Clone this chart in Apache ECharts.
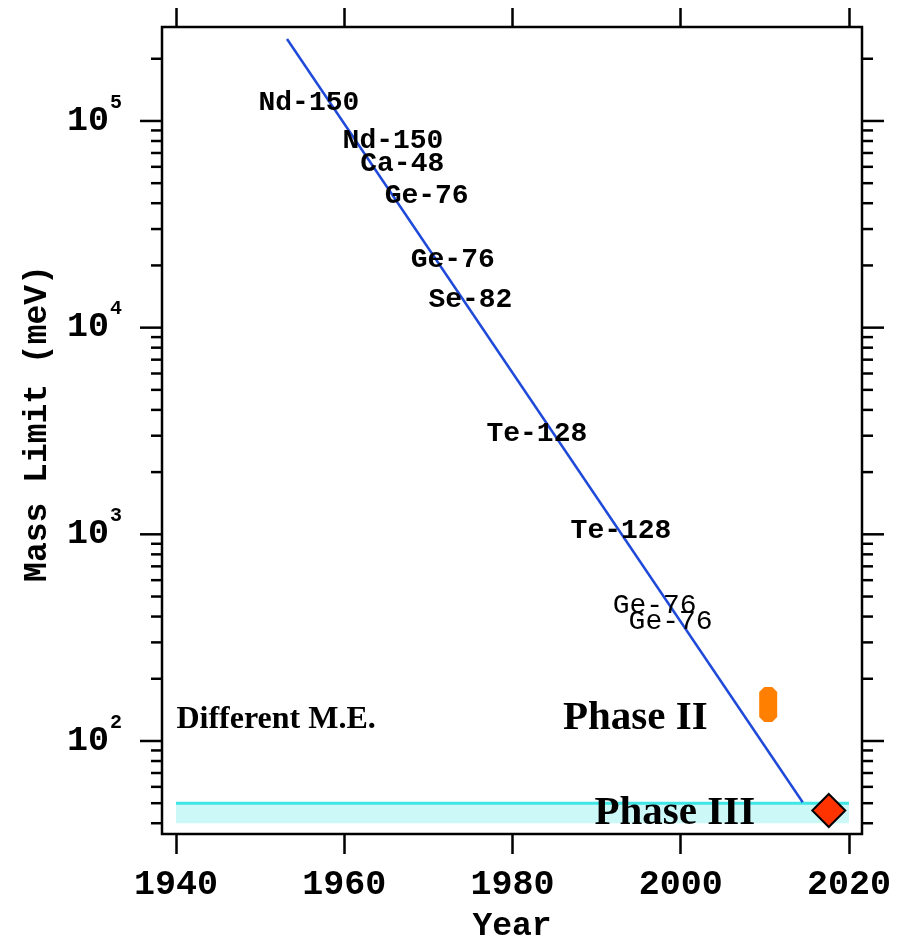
<!DOCTYPE html>
<html>
<head>
<meta charset="utf-8">
<title>Neutrino mass limit vs year</title>
<script src="https://cdn.jsdelivr.net/npm/echarts@6/dist/echarts.min.js"></script>
<style>
  html, body { margin: 0; padding: 0; background: #fff; }
  #chart { width: 897px; height: 942px; }
</style>
</head>
<body>
<div id="chart"></div>
<script>
// Experiment labels (isotope), placed at year / mass limit
const isotopeNames  = ['Nd-150', 'Nd-150', 'Ca-48', 'Ge-76', 'Ge-76', 'Se-82', 'Te-128', 'Te-128', 'Ge-76', 'Ge-76'];
const isotopeYears  = [1955.8, 1965.8, 1966.9, 1969.8, 1972.9, 1975.0, 1982.9, 1992.9, 1996.9, 1998.8];
const isotopeLimits = [122200, 80000, 61900, 43400, 21300, 13600, 3060, 1040, 450, 377];
const isotopeBold   = [true, true, true, true, true, true, true, true, false, false];

// Trend line through the historical limits
const trendYears  = [1953.2, 2014.5];
const trendLimits = [249400, 50.5];

// Phase III target band (year range, mass range)
const bandYears  = [1940, 2020];
const bandLimits = [40, 50];

// Phase II range and Phase III point
const phaseIIYear   = 2010.4;
const phaseIIRange  = [123.6, 182.5];
const phaseIIIYear  = 2017.6;
const phaseIIILimit = 46.1;

// Text annotations
const noteTexts  = ['Different M.E.', 'Phase II', 'Phase III'];
const noteYears  = [1951.9, 1994.6, 1999.3];
const noteLimits = [126.3, 129.2, 44.8];

// Axes
const yearMin = 1938.34, yearMax = 2021.55;
const yearTicks = [1940, 1960, 1980, 2000, 2020];
const massMin = 35.48, massMax = 284900;
const massMajorTicks = [100, 1000, 10000, 100000];
const massMinorTicks = [40, 50, 60, 70, 80, 90,
  200, 300, 400, 500, 600, 700, 800, 900,
  2000, 3000, 4000, 5000, 6000, 7000, 8000, 9000,
  20000, 30000, 40000, 50000, 60000, 70000, 80000, 90000,
  200000];

const MONO = 'Liberation Mono';
const SERIF = 'Liberation Serif';

const chart = echarts.init(document.getElementById('chart'), null, { renderer: 'canvas' });

const tickData = massMajorTicks.map(v => [v, 1]).concat(massMinorTicks.map(v => [v, 0]));

const option = {
  backgroundColor: '#fff',
  animation: false,
  textStyle: { color: '#000' },
  grid: {
    left: 162, right: 35, top: 27, bottom: 108,
    outerBoundsMode: 'none',
    containLabel: false,
    show: true, borderColor: '#000', borderWidth: 2.5, backgroundColor: 'transparent'
  },
  xAxis: [{
    type: 'value', min: yearMin, max: yearMax, position: 'bottom',
    name: 'Year', nameLocation: 'middle', nameGap: 76,
    nameTextStyle: { fontFamily: MONO, fontWeight: 'bold', fontSize: 33, color: '#000' },
    axisLine: { show: false },
    splitLine: { show: false },
    axisTick: { show: true, inside: false, length: 20, customValues: yearTicks,
      lineStyle: { color: '#000', width: 2.5 } },
    axisLabel: { customValues: yearTicks, margin: 34, fontFamily: MONO, fontWeight: 'bold',
      fontSize: 35, color: '#000', formatter: v => String(Math.round(v)) }
  }, {
    type: 'value', min: yearMin, max: yearMax, position: 'top',
    axisLine: { show: false },
    splitLine: { show: false },
    axisTick: { show: true, inside: false, length: 19, customValues: yearTicks,
      lineStyle: { color: '#000', width: 2.5 } },
    axisLabel: { show: false }
  }],
  yAxis: [{
    type: 'log', logBase: 10, min: massMin, max: massMax, position: 'left',
    name: 'Mass Limit (meV)', nameLocation: 'middle', nameGap: 108, nameRotate: 90,
    nameTextStyle: { fontFamily: MONO, fontWeight: 'bold', fontSize: 33, color: '#000',
      padding: [0, 0, 0, 14] },
    axisLine: { show: false },
    splitLine: { show: false },
    axisTick: { show: false },
    axisLabel: {
      margin: 40,
      formatter: v => {
        const e = Math.log10(v);
        const r = Math.round(e);
        if (Math.abs(e - r) > 1e-6) return '';
        return '{b|10}{s|' + r + '}';
      },
      rich: {
        b: { fontFamily: MONO, fontWeight: 'bold', fontSize: 35, lineHeight: 35,
             color: '#000', verticalAlign: 'bottom' },
        s: { fontFamily: MONO, fontWeight: 'bold', fontSize: 20, lineHeight: 20,
             color: '#000', verticalAlign: 'bottom', padding: [0, 0, 26, 1] }
      }
    }
  }],
  series: [
    {
      // Phase III band: light fill with a brighter upper edge
      type: 'custom',
      name: 'Phase III band',
      data: [[bandYears[0], bandYears[1], bandLimits[0], bandLimits[1]]],
      encode: { x: [0, 1], y: [2, 3] },
      z: 1,
      renderItem: (params, api) => {
        const p0 = api.coord([api.value(0), api.value(3)]);
        const p1 = api.coord([api.value(1), api.value(2)]);
        return {
          type: 'group',
          children: [
            { type: 'rect', shape: { x: p0[0], y: p0[1], width: p1[0] - p0[0], height: p1[1] - p0[1] },
              style: { fill: '#ccf8f8' } },
            { type: 'line', shape: { x1: p0[0], y1: p0[1], x2: p1[0], y2: p0[1] },
              style: { stroke: '#3fe6e6', lineWidth: 3 } }
          ]
        };
      }
    },
    {
      type: 'line',
      name: 'Trend',
      data: trendYears.map((y, i) => [y, trendLimits[i]]),
      showSymbol: false,
      symbol: 'none',
      lineStyle: { color: '#1f49d8', width: 2.5 },
      z: 3
    },
    {
      // Phase II range, drawn as a bar with clipped corners
      type: 'custom',
      name: 'Phase II',
      data: [[phaseIIYear, phaseIIRange[0], phaseIIRange[1]]],
      encode: { x: 0, y: [1, 2] },
      z: 4,
      renderItem: (params, api) => {
        const lo = api.coord([api.value(0), api.value(1)]);
        const hi = api.coord([api.value(0), api.value(2)]);
        const h = 9, c = 5;
        const x0 = lo[0] - h, x1 = lo[0] + h, yt = hi[1], yb = lo[1];
        return {
          type: 'polygon',
          shape: { points: [
            [x0 + c, yt], [x1 - c, yt], [x1, yt + c], [x1, yb - c],
            [x1 - c, yb], [x0 + c, yb], [x0, yb - c], [x0, yt + c]
          ] },
          style: { fill: '#ff8000' }
        };
      }
    },
    {
      type: 'scatter',
      name: 'Phase III',
      data: [[phaseIIIYear, phaseIIILimit]],
      symbol: 'diamond',
      symbolSize: [33, 33],
      itemStyle: { color: '#ff3300', opacity: 1, borderColor: '#000', borderWidth: 2 },
      z: 5
    },
    {
      // Isotope names drawn as text at each experiment's position
      type: 'custom',
      name: 'Isotopes',
      data: isotopeYears.map((y, i) => [y, isotopeLimits[i], isotopeBold[i] ? 1 : 0]),
      encode: { x: 0, y: 1 },
      z: 6,
      renderItem: (params, api) => {
        const p = api.coord([api.value(0), api.value(1)]);
        return {
          type: 'text',
          x: p[0], y: p[1],
          style: {
            text: isotopeNames[params.dataIndex],
            fill: '#000',
            font: (api.value(2) ? 'bold ' : '') + '28px "' + MONO + '"',
            align: 'center', verticalAlign: 'middle'
          }
        };
      }
    },
    {
      // Free text notes
      type: 'custom',
      name: 'Notes',
      data: noteYears.map((y, i) => [y, noteLimits[i]]),
      encode: { x: 0, y: 1 },
      z: 6,
      renderItem: (params, api) => {
        const p = api.coord([api.value(0), api.value(1)]);
        const size = params.dataIndex === 0 ? 32 : 41;
        return {
          type: 'text',
          x: p[0], y: p[1],
          style: {
            text: noteTexts[params.dataIndex],
            fill: '#000',
            font: 'bold ' + size + 'px "' + SERIF + '"',
            align: 'center', verticalAlign: 'middle'
          }
        };
      }
    },
    {
      // Log-axis ticks on both sides: majors at decades, minors at 2..9
      type: 'custom',
      name: 'Mass ticks',
      data: tickData,
      encode: { y: 0 },
      clip: false,
      silent: true,
      z: 10,
      renderItem: (params, api) => {
        const cs = params.coordSys;
        const y = api.coord([yearMin, api.value(0)])[1];
        const len = api.value(1) ? 22 : 11;
        const st = { stroke: '#000', lineWidth: 2.5 };
        return {
          type: 'group',
          children: [
            { type: 'line', shape: { x1: cs.x - len, y1: y, x2: cs.x, y2: y }, style: st },
            { type: 'line', shape: { x1: cs.x + cs.width, y1: y, x2: cs.x + cs.width + len, y2: y }, style: st }
          ]
        };
      }
    }
  ]
};

chart.setOption(option);
</script>
</body>
</html>
